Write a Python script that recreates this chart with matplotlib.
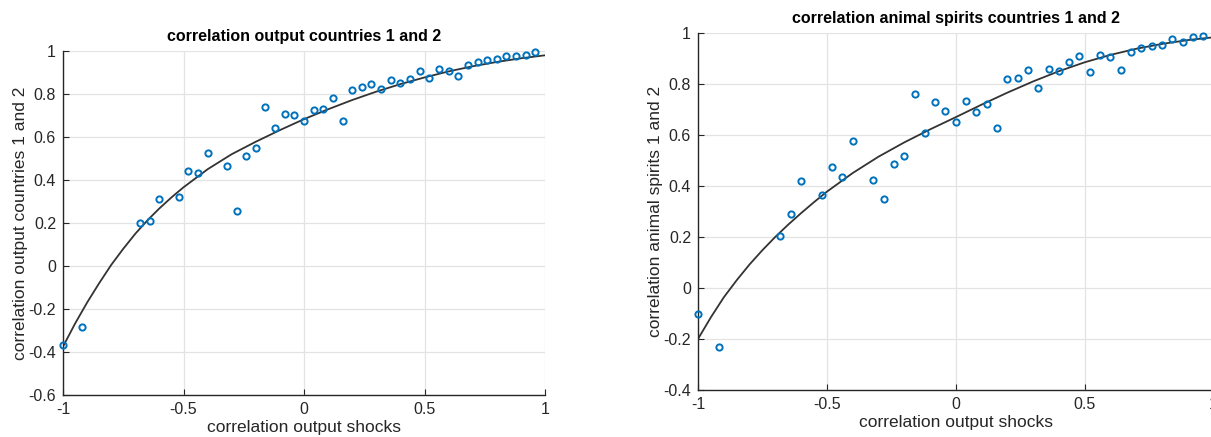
import numpy as np
import matplotlib
matplotlib.use("Agg")
import matplotlib.pyplot as plt
from matplotlib.ticker import FuncFormatter

plt.rcParams["font.family"] = ["Liberation Sans", "DejaVu Sans"]
plt.rcParams["axes.unicode_minus"] = False

# shock correlations (x positions of the simulated points)
shock_corr = [-1.0, -0.92, -0.68, -0.64, -0.60, -0.52, -0.48, -0.44, -0.40, -0.32,
              -0.28, -0.24, -0.20, -0.16, -0.12, -0.08, -0.04, 0.0, 0.04, 0.08,
              0.12, 0.16, 0.20, 0.24, 0.28, 0.32, 0.36, 0.40, 0.44, 0.48,
              0.52, 0.56, 0.60, 0.64, 0.68, 0.72, 0.76, 0.80, 0.84, 0.88,
              0.92, 0.96]

output_corr = [-0.368, -0.285, 0.200, 0.207, 0.311, 0.322, 0.444, 0.433, 0.525, 0.467,
               0.257, 0.512, 0.551, 0.741, 0.644, 0.707, 0.704, 0.676, 0.724, 0.728,
               0.780, 0.673, 0.819, 0.831, 0.845, 0.822, 0.864, 0.853, 0.868, 0.907,
               0.875, 0.915, 0.907, 0.884, 0.937, 0.949, 0.957, 0.964, 0.978, 0.975,
               0.983, 0.994]

spirits_corr = [-0.102, -0.232, 0.202, 0.289, 0.420, 0.366, 0.473, 0.433, 0.577, 0.424,
                0.347, 0.487, 0.518, 0.759, 0.608, 0.729, 0.695, 0.652, 0.732, 0.691,
                0.722, 0.628, 0.818, 0.822, 0.853, 0.785, 0.858, 0.849, 0.885, 0.909,
                0.845, 0.911, 0.905, 0.853, 0.924, 0.939, 0.947, 0.953, 0.977, 0.965,
                0.983, 0.988]

# fitted curves
fit_x = [-1.0, -0.95, -0.9, -0.85, -0.8, -0.75, -0.7, -0.65, -0.6, -0.55, -0.5,
         -0.4, -0.3, -0.2, -0.1, 0.0, 0.1, 0.2, 0.3, 0.4, 0.5, 0.6, 0.7, 0.8, 0.9, 1.0]
fit_output = [-0.375, -0.268, -0.170, -0.080, 0.005, 0.080, 0.150, 0.212, 0.268, 0.319, 0.366,
              0.450, 0.520, 0.578, 0.632, 0.683, 0.729, 0.772, 0.811, 0.846, 0.877,
              0.905, 0.929, 0.949, 0.966, 0.980]
fit_spirits = [-0.200, -0.115, -0.037, 0.030, 0.092, 0.148, 0.200, 0.248, 0.293, 0.336, 0.377,
               0.450, 0.514, 0.570, 0.621, 0.669, 0.718, 0.765, 0.809, 0.849, 0.884,
               0.913, 0.937, 0.956, 0.971, 0.982]

W, H = 1211, 437
fig = plt.figure(figsize=(W / 100, H / 100), dpi=100)

blue = "#0072BD"
fmt = FuncFormatter(lambda v, p: "%g" % round(v, 6))


def style(ax, ylo, yhi):
    ax.set_xlim(-1, 1)
    ax.set_ylim(ylo, yhi)
    ax.set_xticks([-1, -0.5, 0, 0.5, 1])
    ax.set_yticks(np.arange(ylo, yhi + 0.01, 0.2))
    ax.xaxis.set_major_formatter(fmt)
    ax.yaxis.set_major_formatter(fmt)
    ax.grid(True, color="#e3e3e3", lw=0.9)
    ax.set_axisbelow(True)
    for s in ["top", "right"]:
        ax.spines[s].set_visible(False)
    for s in ["left", "bottom"]:
        ax.spines[s].set_color("#262626")
        ax.spines[s].set_linewidth(1.0)
    ax.tick_params(direction="in", length=4, width=0.8, colors="#262626",
                   labelsize=11.5, pad=5)


ax1 = fig.add_axes([63 / W, 1 - 395 / H, (545 - 63) / W, (395 - 51) / H])
ax1.plot(fit_x, fit_output, color="#333333", lw=1.3, zorder=2)
ax1.plot(shock_corr, output_corr, "o", mfc="none", mec=blue, ms=4.5, mew=1.4, zorder=3,
         clip_on=False)
style(ax1, -0.6, 1.0)
ax1.set_title("correlation output countries 1 and 2", fontsize=11.5, fontweight="bold", pad=7)
ax1.set_xlabel("correlation output shocks", fontsize=12.5, color="#262626", labelpad=2)
ax1.set_ylabel("correlation output countries 1 and 2", fontsize=12.5, color="#262626", labelpad=0)

ax2 = fig.add_axes([698 / W, 1 - 390 / H, (1213.5 - 698) / W, (390 - 32.7) / H])
ax2.plot(fit_x, fit_spirits, color="#333333", lw=1.3, zorder=2)
ax2.plot(shock_corr, spirits_corr, "o", mfc="none", mec=blue, ms=4.5, mew=1.4, zorder=3,
         clip_on=False)
style(ax2, -0.4, 1.0)
ax2.set_title("correlation animal spirits countries 1 and 2", fontsize=11.5, fontweight="bold", pad=7)
ax2.set_xlabel("correlation output shocks", fontsize=12.5, color="#262626", labelpad=2)
ax2.set_ylabel("correlation animal spirits 1 and 2", fontsize=12.5, color="#262626", labelpad=0)

fig.savefig("out.png", dpi=100)
